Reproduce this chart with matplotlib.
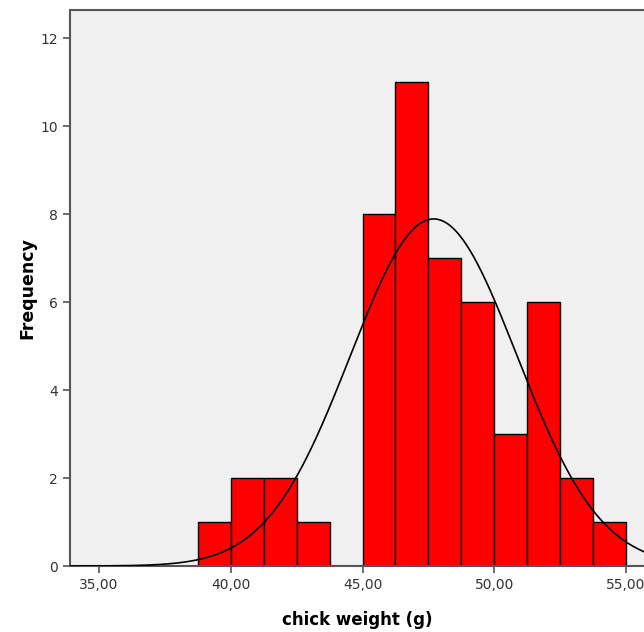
import numpy as np
import matplotlib
matplotlib.use("Agg")
import matplotlib.pyplot as plt

bin_edges = [38.75, 40.0, 41.25, 42.5, 43.75, 45.0, 46.25, 47.5, 48.75, 50.0, 51.25, 52.5, 53.75, 55.0]
counts = [1, 2, 2, 1, 0, 8, 11, 7, 6, 3, 6, 2, 1]
n_total = 50
mean_w = 47.7
sd_w = 3.16
x_ticks = [35, 40, 45, 50, 55]
x_ticklabels = ["35,00", "40,00", "45,00", "50,00", "55,00"]
y_ticks = [0, 2, 4, 6, 8, 10, 12]

fig = plt.figure(figsize=(6.44, 6.32), dpi=100)
ax = fig.add_axes([70/644, 1-566/632, (644-70)/644, (566-10)/632])
ax.set_facecolor("#f0f0f0")

edges = np.array(bin_edges)
widths = np.diff(edges)
ax.bar(edges[:-1], counts, width=widths, align="edge", color="#ff0000",
       edgecolor="black", linewidth=1.0, zorder=2)

bw = widths[0]
xs = np.linspace(33.9, 56, 500)
ys = n_total * bw / (sd_w * np.sqrt(2*np.pi)) * np.exp(-0.5*((xs-mean_w)/sd_w)**2)
ax.plot(xs, ys, color="black", linewidth=1.2, zorder=3)

ax.set_xlim(33.897, 55.684)
ax.set_ylim(0, 12.64)
ax.set_xticks(x_ticks)
ax.set_xticklabels(x_ticklabels)
ax.set_yticks(y_ticks)

for s in ["right"]:
    ax.spines[s].set_visible(False)
for s in ["left", "bottom", "top"]:
    ax.spines[s].set_color("#555555")
    ax.spines[s].set_linewidth(1.5)
ax.tick_params(axis="both", direction="out", length=5, width=1.2, color="#555555",
               labelsize=10, labelcolor="#333333")

ax.set_xlabel("chick weight (g)", fontsize=12, fontweight="bold", labelpad=14)
ax.set_ylabel("Frequency", fontsize=12.5, fontweight="bold", labelpad=3)

fig.savefig("out.png", dpi=100)
